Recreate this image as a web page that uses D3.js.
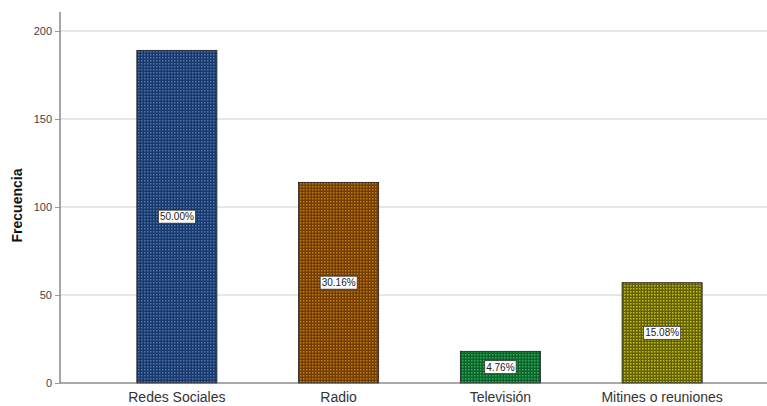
<!DOCTYPE html>
<html>
<head>
<meta charset="utf-8">
<script src="https://cdn.jsdelivr.net/npm/d3@7"></script>
<style>
  html, body { margin: 0; padding: 0; background: #fff; }
  svg { display: block; font-family: Arial, "Liberation Sans", sans-serif; }
</style>
</head>
<body>
<svg id="chart" width="767" height="406"></svg>
<script>
// Medio por el que se informa: frecuencias y porcentajes
const categories = ["Redes Sociales", "Radio", "Televisión", "Mitines o reuniones"];
const counts = [189, 114, 18, 57];
const percentLabels = ["50.00%", "30.16%", "4.76%", "15.08%"];
const yTicks = [0, 50, 100, 150, 200];
const baseColors = ["#1b386a", "#723e00", "#0a6429", "#646200"];
const dotColors = ["#4a76b4", "#c47a18", "#2fae58", "#c4c020"];

const svg = d3.select("#chart");
const plotLeft = 60, plotRight = 767, plotTop = 12, plotBottom = 383;

const x = d3.scaleBand()
  .domain(categories)
  .range([96, 743])
  .paddingInner(0.505)
  .paddingOuter(0.2525);

const y = d3.scaleLinear()
  .domain([0, 200])
  .range([plotBottom, 31]);

// checkered fill patterns
const defs = svg.append("defs");
categories.forEach((c, i) => {
  const p = defs.append("pattern")
    .attr("id", "pat" + i)
    .attr("patternUnits", "userSpaceOnUse")
    .attr("width", 3).attr("height", 3);
  p.append("rect").attr("width", 3).attr("height", 3).attr("fill", baseColors[i]);
  p.append("rect").attr("x", 0).attr("y", 0).attr("width", 1.5).attr("height", 1.5)
    .attr("fill", dotColors[i]);
});

// horizontal gridlines
svg.append("g")
  .selectAll("line")
  .data(yTicks.filter(d => d > 0))
  .join("line")
  .attr("x1", plotLeft).attr("x2", plotRight)
  .attr("y1", d => y(d)).attr("y2", d => y(d))
  .attr("stroke", "#cfcfcf").attr("stroke-width", 1);

// y axis
const yAxis = d3.axisLeft(y).tickValues(yTicks).tickSize(5).tickPadding(3);
const gy = svg.append("g").attr("transform", `translate(${plotLeft},0)`).call(yAxis);
gy.select(".domain").remove();
gy.selectAll(".tick line").attr("stroke", "#999");
gy.selectAll(".tick text").attr("fill", "#444").style("font-size", "11px");
svg.append("line")
  .attr("x1", plotLeft).attr("x2", plotLeft)
  .attr("y1", plotTop).attr("y2", plotBottom)
  .attr("stroke", "#888").attr("stroke-width", 1.5);

// bars
svg.append("g")
  .selectAll("rect")
  .data(categories)
  .join("rect")
  .attr("x", d => x(d))
  .attr("width", x.bandwidth())
  .attr("y", (d, i) => y(counts[i]))
  .attr("height", (d, i) => y(0) - y(counts[i]))
  .attr("fill", (d, i) => `url(#pat${i})`)
  .attr("stroke", "#1a1a1a").attr("stroke-width", 0.8);

// x baseline
svg.append("line")
  .attr("x1", plotLeft).attr("x2", plotRight)
  .attr("y1", plotBottom).attr("y2", plotBottom)
  .attr("stroke", "#555").attr("stroke-width", 1.2);

// x category labels
const xAxis = d3.axisBottom(x).tickSize(0).tickPadding(9);
const gx = svg.append("g").attr("transform", `translate(0,${plotBottom})`).call(xAxis);
gx.select(".domain").remove();
gx.selectAll(".tick text").attr("fill", "#333").style("font-size", "14px");

// percentage labels
const lab = svg.append("g")
  .selectAll("g")
  .data(categories)
  .join("g")
  .attr("transform", (d, i) => `translate(${x(d) + x.bandwidth() / 2},${(y(0) + y(counts[i])) / 2})`);
lab.append("text")
  .text((d, i) => percentLabels[i])
  .attr("text-anchor", "middle")
  .attr("dy", "0.35em")
  .attr("fill", "#222")
  .style("font-size", "10px")
  .each(function () {
    const b = this.getBBox();
    d3.select(this.parentNode).insert("rect", "text")
      .attr("x", b.x - 1.5).attr("y", b.y - 1)
      .attr("width", b.width + 3).attr("height", b.height + 2)
      .attr("fill", "#fff").attr("stroke", "#333").attr("stroke-width", 0.8);
  });

// y axis title
svg.append("text")
  .attr("transform", `translate(22,${(plotTop + plotBottom) / 2 + 8}) rotate(-90)`)
  .attr("text-anchor", "middle")
  .attr("fill", "#111")
  .style("font-size", "14px")
  .style("font-weight", "bold")
  .text("Frecuencia");
</script>
</body>
</html>
